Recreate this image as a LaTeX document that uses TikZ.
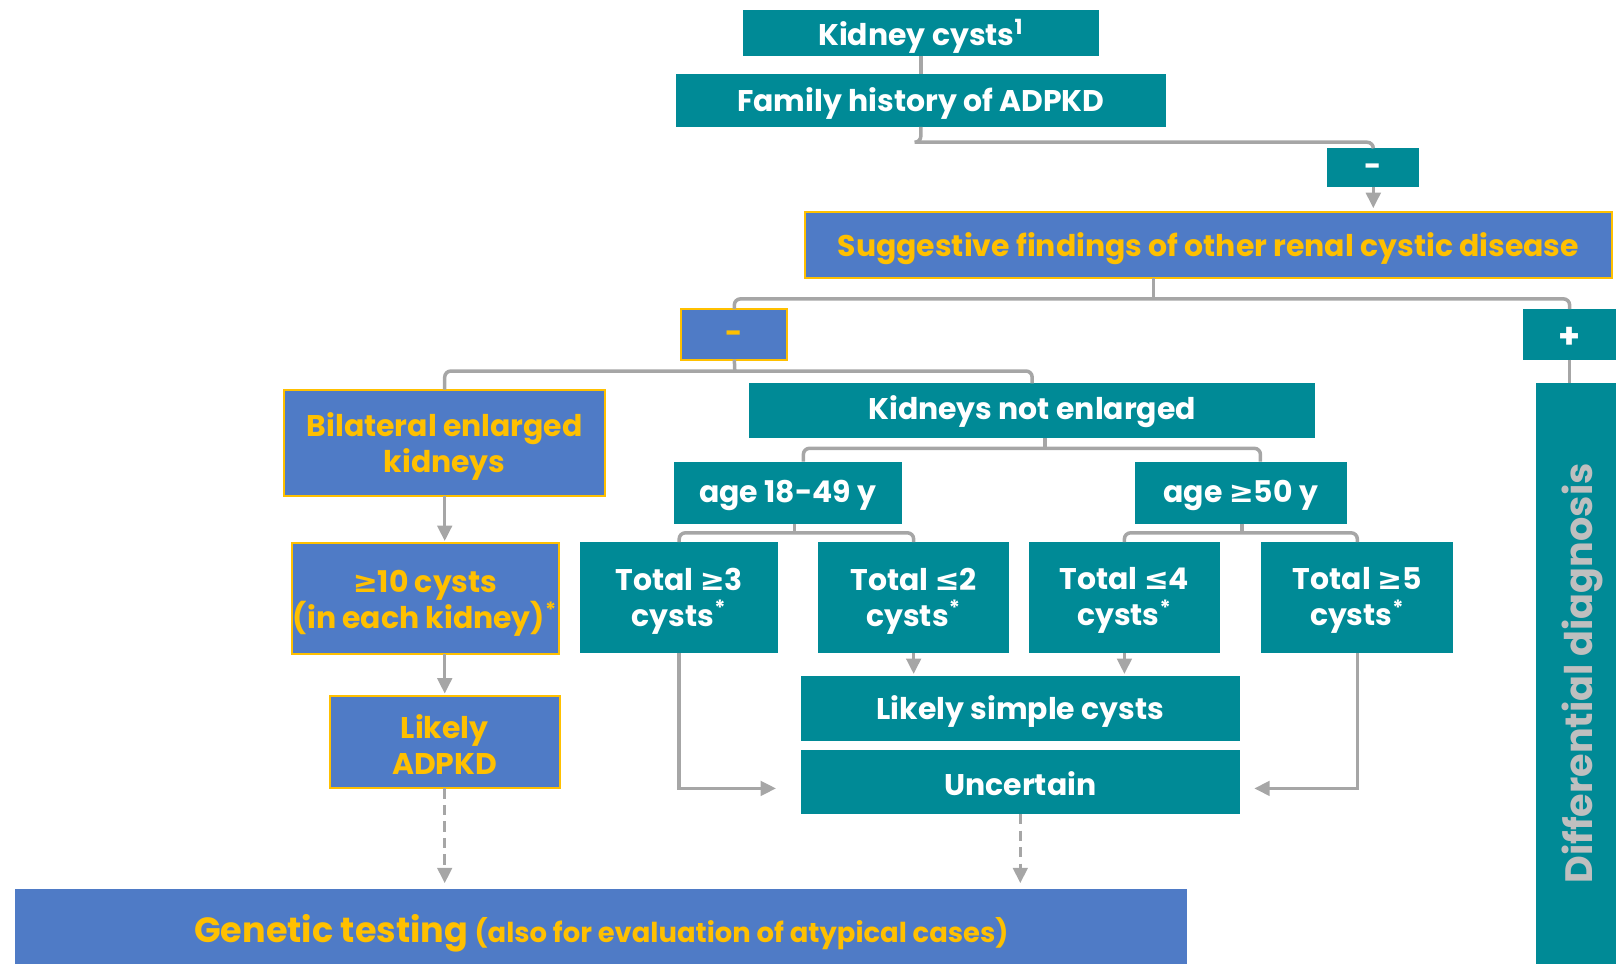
\documentclass[tikz,border=0pt]{standalone}
\usepackage{fontspec}
\setmainfont{Poppins}
\newfontfamily\symf{DejaVu Sans}
\usetikzlibrary{arrows.meta}
\definecolor{teal1}{RGB}{0,138,150}
\definecolor{blu}{RGB}{79,123,198}
\definecolor{yel}{RGB}{255,192,0}
\definecolor{gry}{RGB}{166,166,166}
\definecolor{ddg}{RGB}{191,191,191}
\newcommand\mygeq{{\symf ≥}}
\newcommand\myleq{{\symf ≤}}
% #1 name, #2 box style, #3 text style, #4-#7 corners, #8 text
\newcommand\bx[8]{%
  \pgfmathsetmacro\bw{(#6-#4)*0.5}%
  \pgfmathsetmacro\bh{(#7-#5)*0.5}%
  \node[#2, minimum width=\bw pt, minimum height=\bh pt] (#1) at ({(#4+#6)/2},{(#5+#7)/2}) {};
  \node[#3] (#1t) at ([yshift=-1.5pt]#1.center) {#8};}
\tikzset{
  tfill/.style={fill=teal1, inner sep=0pt, outer sep=0pt},
  bfill/.style={fill=blu, draw=yel, line width=1pt, inner sep=0pt, outer sep=0pt},
  txt/.style={inner sep=0pt, font=\bfseries\fontsize{14.5}{17.5}\selectfont, align=center},
  wtxt/.style={txt, text=white},
  ytxt/.style={txt, text=yel},
  conn/.style={draw=gry, line width=1.7pt, rounded corners=3pt},
  arr/.style={conn, -{Triangle[length=7.5pt,width=7pt]}},
  darr/.style={arr, dash pattern=on 5pt off 3pt},
}
\begin{document}
\begin{tikzpicture}[x=0.5pt,y=-0.5pt]
\useasboundingbox (0,0) rectangle (1568,935);
% nodes
\bx{kc}{tfill}{wtxt}{721}{10}{1066}{54}{Kidney cysts\textsuperscript{1}}
\bx{fh}{tfill}{wtxt}{656}{72}{1131}{123}{Family history of ADPKD}
\bx{m1}{tfill}{wtxt}{1288}{144}{1377}{181}{-}
\bx{sfd}{bfill}{ytxt}{781}{206}{1564}{270}{Suggestive findings of other renal cystic disease}
\bx{m2}{bfill}{ytxt}{661}{300}{764}{349}{-}
\bx{pl}{tfill}{wtxt, font=\bfseries\fontsize{17}{19}\selectfont}{1478}{300}{1568}{349}{+}
\bx{dd}{tfill}{txt, text=ddg, xshift=3pt, yshift=1.5pt, rotate=90, font=\bfseries\fontsize{18.5}{20}\selectfont}{1490}{372}{1568}{935}{Differential diagnosis}
\bx{bil}{bfill}{ytxt, yshift=-0.5pt}{276}{378}{587}{481}{Bilateral enlarged\\kidneys}
\bx{g10}{bfill}{ytxt, yshift=-0.5pt}{283}{527}{542}{635}{\mygeq10 cysts\\(in each kidney)\textsuperscript{*}}
\bx{lad}{bfill}{ytxt, yshift=0.5pt}{320}{675}{543}{765}{Likely\\ADPKD}
\bx{kne}{tfill}{wtxt, yshift=1pt}{727}{372}{1276}{425}{Kidneys not enlarged}
\bx{a1}{tfill}{wtxt}{654}{448}{875}{508}{age 18-49 y}
\bx{a2}{tfill}{wtxt}{1101}{448}{1307}{508}{age \mygeq50 y}
\bx{t3}{tfill}{wtxt}{563}{526}{755}{634}{Total \mygeq3\\cysts\textsuperscript{*}}
\bx{t2}{tfill}{wtxt}{794}{526}{979}{634}{Total \myleq2\\cysts\textsuperscript{*}}
\bx{t4}{tfill}{wtxt}{998}{526}{1184}{634}{Total \myleq4\\cysts\textsuperscript{*}}
\bx{t5}{tfill}{wtxt}{1224}{526}{1410}{634}{Total \mygeq5\\cysts\textsuperscript{*}}
\bx{ls}{tfill}{wtxt}{777}{656}{1203}{719}{Likely simple cysts}
\bx{unc}{tfill}{wtxt, yshift=1pt}{777}{728}{1203}{790}{Uncertain}
\bx{gen}{fill=blu, inner sep=0pt, outer sep=0pt}{ytxt, yshift=-2pt}{15}{863}{1152}{935}{{\fontsize{17}{19}\selectfont Genetic testing} {\fontsize{13.3}{15}\selectfont (also for evaluation of atypical cases)}}
% junction coordinates
\coordinate (j0) at (891,138);
\coordinate (j1) at (1119,290);
\coordinate (j2) at (713,360);
\coordinate (j3) at (1014,435);
\coordinate (j4) at (771,517);
\coordinate (j5) at (1205,517);
% connectors
\draw[conn] (kc.south) -- (fh.north);
\draw[conn] (fh.south) |- (j0) -| (m1.north);
\draw[arr, shorten >=2pt] (m1.south) -- (m1.south |- sfd.north);
\draw[conn] (sfd.south -| j1) -- (j1);
\draw[conn] (m2.north) |- (j1) -| (pl.north);
\draw[conn] (m2.south) -- (j2);
\draw[conn] (bil.north) |- (j2) -| (kne.north);
\draw[conn] (pl.south) -- (pl.south |- dd.north);
\draw[conn] (kne.south -| j3) -- (j3);
\draw[conn] ([xshift=7.5pt]a1.north) |- (j3) -| ([xshift=9.5pt]a2.north);
\draw[conn] (a1.south -| j4) -- (j4);
\draw[conn] (t3.north) |- (j4) -| (t2.north);
\draw[conn] (a2.south -| j5) -- (j5);
\draw[conn] (t4.north) |- (j5) -| (t5.north);
\draw[arr, shorten >=1pt] (t2.south) -- (t2.south |- ls.north);
\draw[arr, shorten >=1pt] (t4.south) -- (t4.south |- ls.north);
\draw[arr, rounded corners=0pt, shorten >=12pt] (t3.south) |- ([yshift=-3pt]unc.west);
\draw[arr, rounded corners=0pt, shorten >=7pt] (t5.south) |- ([yshift=-3pt]unc.east);
\draw[arr, shorten >=1pt] (bil.south) -- (bil.south |- g10.north);
\draw[arr, shorten >=1pt] (lad.north |- g10.south) -- (lad.north);
\draw[darr, shorten >=3pt] (lad.south) -- (lad.south |- gen.north);
\draw[darr, shorten >=3pt] (unc.south) -- (unc.south |- gen.north);
\end{tikzpicture}
\end{document}
